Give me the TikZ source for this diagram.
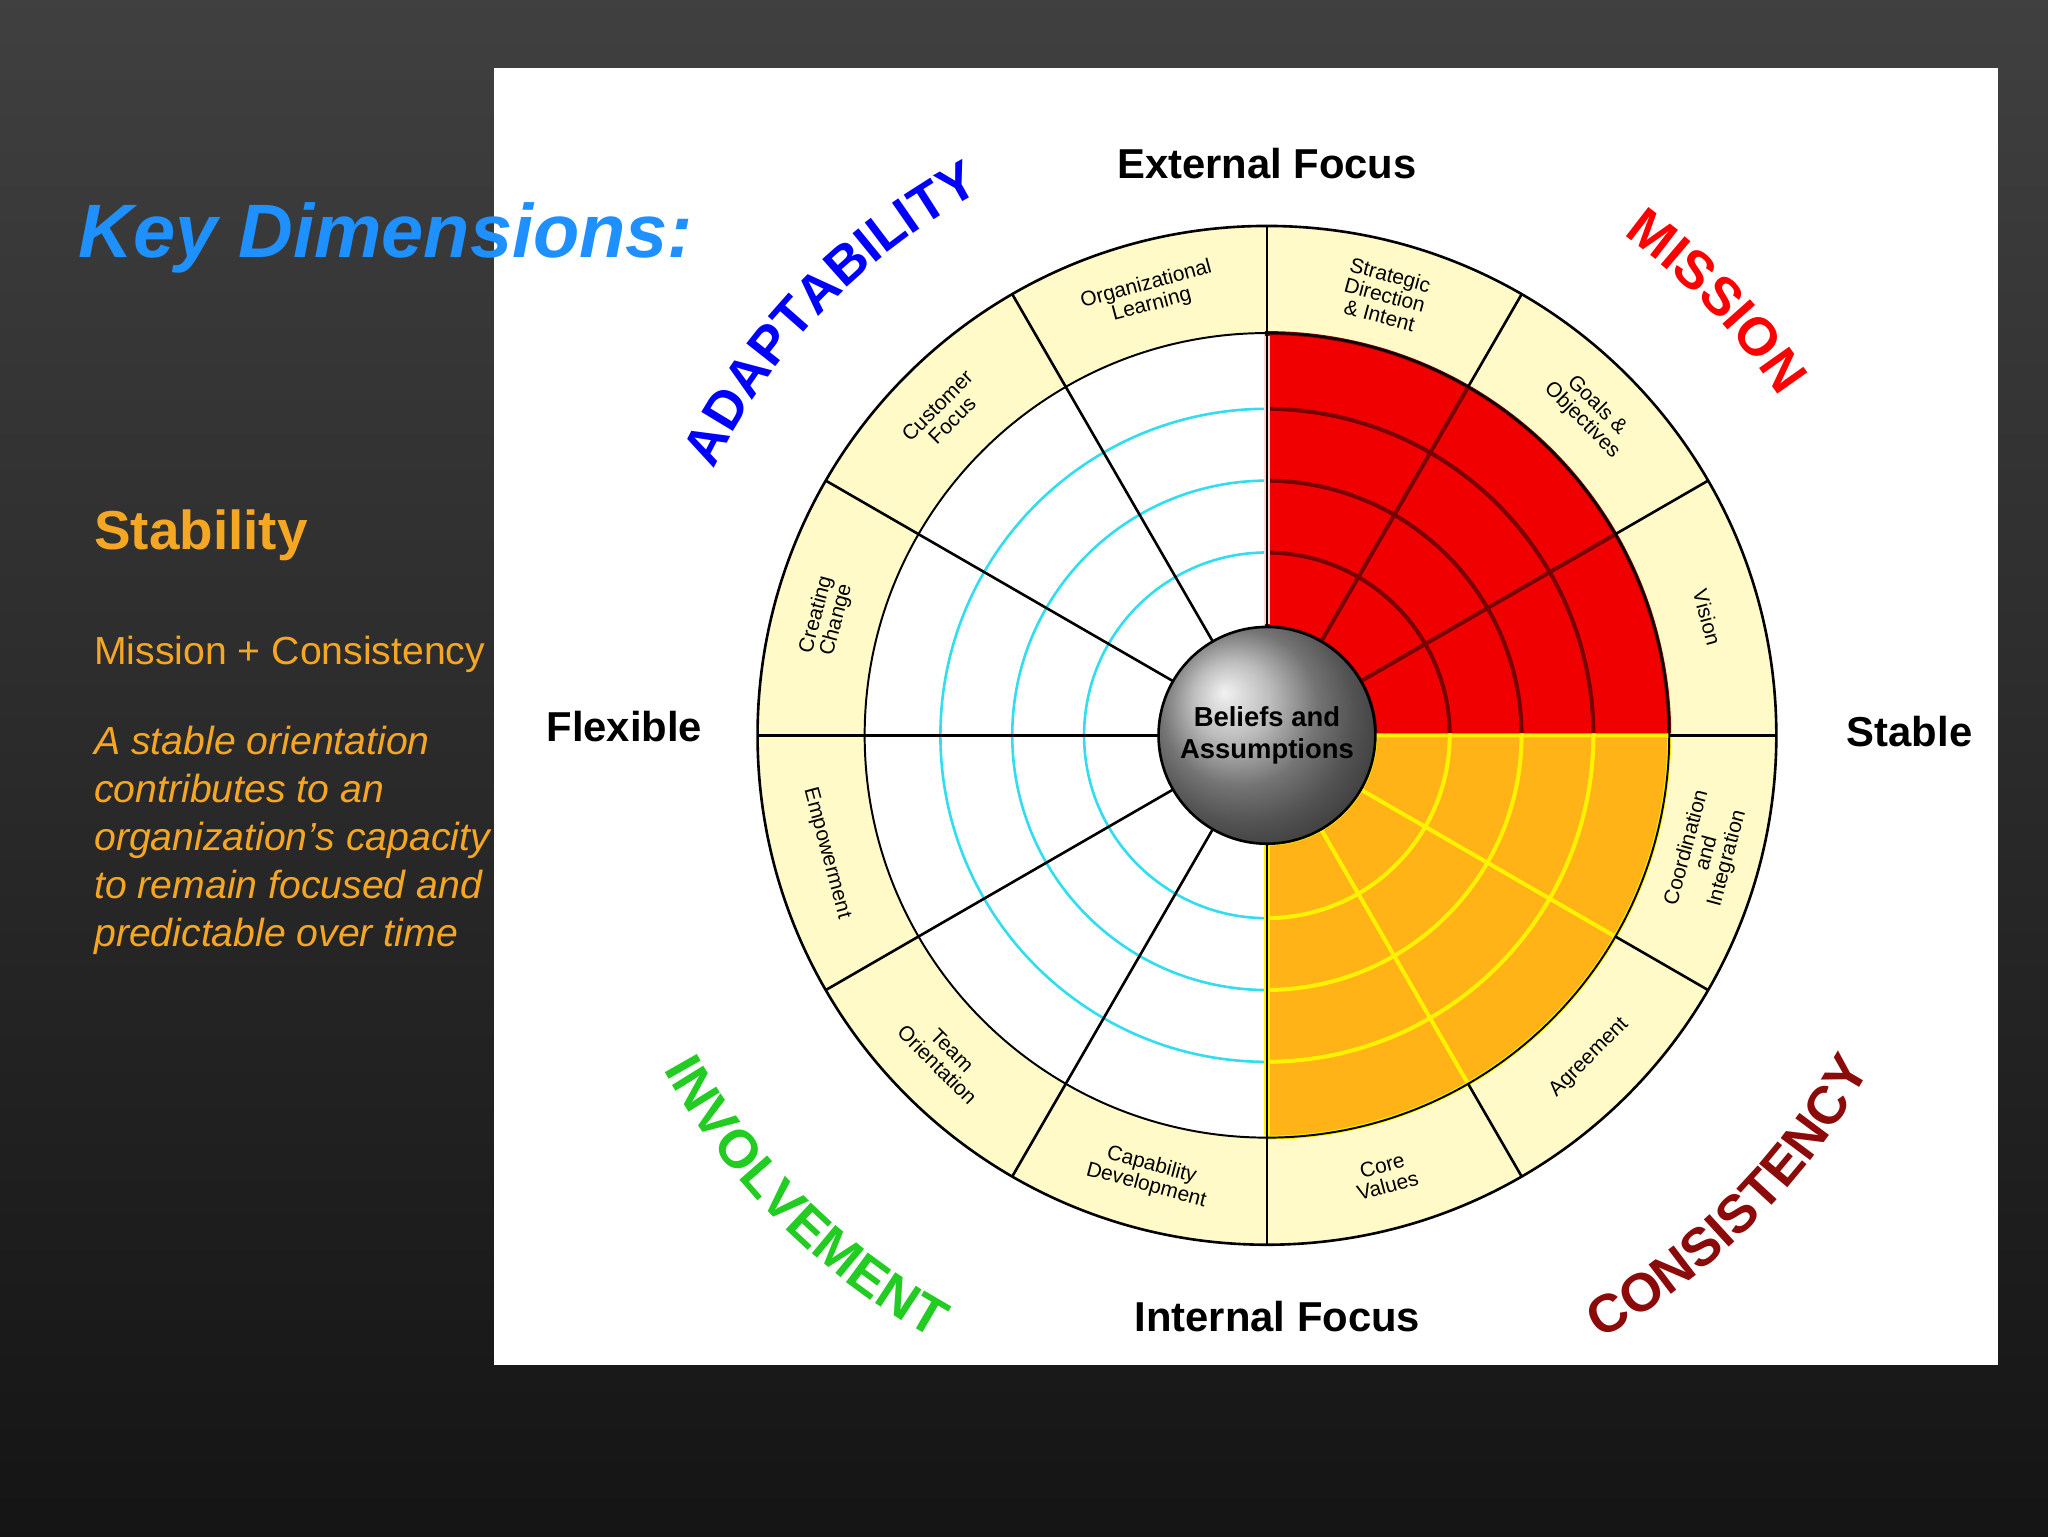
\documentclass[tikz,border=0pt]{standalone}
\usepackage{fontspec}
\setmainfont{Liberation Sans}
\usetikzlibrary{decorations.text}
\definecolor{cream}{HTML}{FFFAC8}
\definecolor{cyanl}{HTML}{33DDEE}
\definecolor{rcell}{HTML}{F00000}
\definecolor{rdark}{HTML}{7A0000}
\definecolor{ocell}{HTML}{FFB316}
\definecolor{ylw}{HTML}{FFF200}
\definecolor{keyblue}{HTML}{1E90FF}
\definecolor{stab}{HTML}{F5A623}
\definecolor{consred}{HTML}{8B0A0A}
\definecolor{invgreen}{HTML}{22CC22}
\tikzset{
  redc/.style={fill=rcell,draw=rdark,line width=3},
  orac/.style={fill=ocell,draw=ylw,line width=3},
  seglab/.style={font=\fontsize{16}{16}\selectfont,align=center,inner sep=0},
  axlab/.style={font=\bfseries\fontsize{32}{32}\selectfont},
  arcw/.style={decorate,decoration={text along path,text align=center,text={#1}}}
}
\begin{document}
\begin{tikzpicture}[x=1pt,y=1pt]
\useasboundingbox (0,0) rectangle (1568,1176);
\shade[top color=black!75,bottom color=black!92] (0,0) rectangle (1568,1176);
\fill[white] (378,131) rectangle (1530,1124);
\begin{scope}[shift={(970,613)}]
\fill[cream] (0,0) circle (390);
\fill[white] (0,0) circle (308);
\foreach \r in {140,195,250} \draw[cyanl,line width=2] (90:\r) arc (90:270:\r);
\foreach \a/\b in {0/30,30/60,60/90} \foreach \p/\q in {83/140,140/195,195/250,250/308}
  \draw[redc] (\a:\p) arc (\a:\b:\p) -- (\b:\q) arc (\b:\a:\q) -- cycle;
\foreach \a/\b in {270/300,300/330,330/360} \foreach \p/\q in {83/140,140/195,195/250,250/308}
  \draw[orac] (\a:\p) arc (\a:\b:\p) -- (\b:\q) arc (\b:\a:\q) -- cycle;
\draw[pink!80!red!40,line width=5] (90:85) -- (90:306);
\draw[ylw,line width=5] (270:85) -- (270:306);
\draw[line width=2] (0,0) circle (390);
\draw[line width=1.5] (0,0) circle (308);
\foreach \a in {0,30,60,90,270,300,330} \draw[line width=2] (\a:308) -- (\a:390);
\foreach \a in {90,120,150,180,210,240,270} \draw[line width=2] (\a:83) -- (\a:390);
\shade[ball color=gray!70] (0,0) circle (83);
\draw[line width=2] (0,0) circle (83);
\node[font=\bfseries\fontsize{21}{24}\selectfont,align=center] (core) at (0,0) {Beliefs and\\Assumptions};
\node[seglab,rotate=-15] (s1) at (75:349) {Strategic\\Direction\\\& Intent};
\node[seglab,rotate=-45] (s2) at (45:349) {Goals \&\\Objectives};
\node[seglab,rotate=-75] (s3) at (15:349) {Vision};
\node[seglab,rotate=75] (s4) at (-15:349) {Coordination\\and\\Integration};
\node[seglab,rotate=45] (s5) at (-45:349) {Agreement};
\node[seglab,rotate=15] (s6) at (-75:349) {Core\\Values};
\node[seglab,rotate=-15] (s7) at (255:349) {Capability\\Development};
\node[seglab,rotate=-45] (s8) at (225:349) {Team\\Orientation};
\node[seglab,rotate=-75] (s9) at (195:349) {Empowerment};
\node[seglab,rotate=75] (s10) at (165:349) {Creating\\Change};
\node[seglab,rotate=45] (s11) at (135:349) {Customer\\Focus};
\node[seglab,rotate=15] (s12) at (105:349) {Organizational\\Learning};
\path[arcw={|\bfseries\fontsize{41}{41}\selectfont\color{blue}|ADAPTABILITY}] (178:470) arc (178:94:470);
\path[arcw={|\bfseries\fontsize{41}{41}\selectfont\color{red}|MISSION}] (86:470) arc (86:2:470);
\path[arcw={|\bfseries\fontsize{41}{41}\selectfont\color{invgreen}|INVOLVEMENT}] (183:528) arc (183:267:528);
\path[arcw={|\bfseries\fontsize{41}{41}\selectfont\color{consred}|CONSISTENCY}] (273:528) arc (273:357:528);
\end{scope}
\node[axlab] (ext) at (970,1051) {External Focus};
\node[axlab] (int) at (978,168) {Internal Focus};
\node[axlab] (flex) at (478,620) {Flexible};
\node[axlab] (stb) at (1462,616) {Stable};
\node[anchor=west,inner sep=0,font=\bfseries\itshape\fontsize{58}{58}\selectfont,text=keyblue] (key) at (60,994) {Key Dimensions:};
\node[anchor=west,inner sep=0,font=\bfseries\fontsize{42}{42}\selectfont,text=stab] (st) at (72,766) {Stability};
\node[anchor=west,inner sep=0,font=\fontsize{30}{30}\selectfont,text=stab] (mc) at (72,675) {Mission + Consistency};
\node[anchor=north west,inner sep=0,align=left,font=\itshape\fontsize{30}{36.6}\selectfont,text=stab] (desc) at (72,620) {A stable orientation\\contributes to an\\organization’s capacity\\to remain focused and\\predictable over time};
\end{tikzpicture}
\end{document}
